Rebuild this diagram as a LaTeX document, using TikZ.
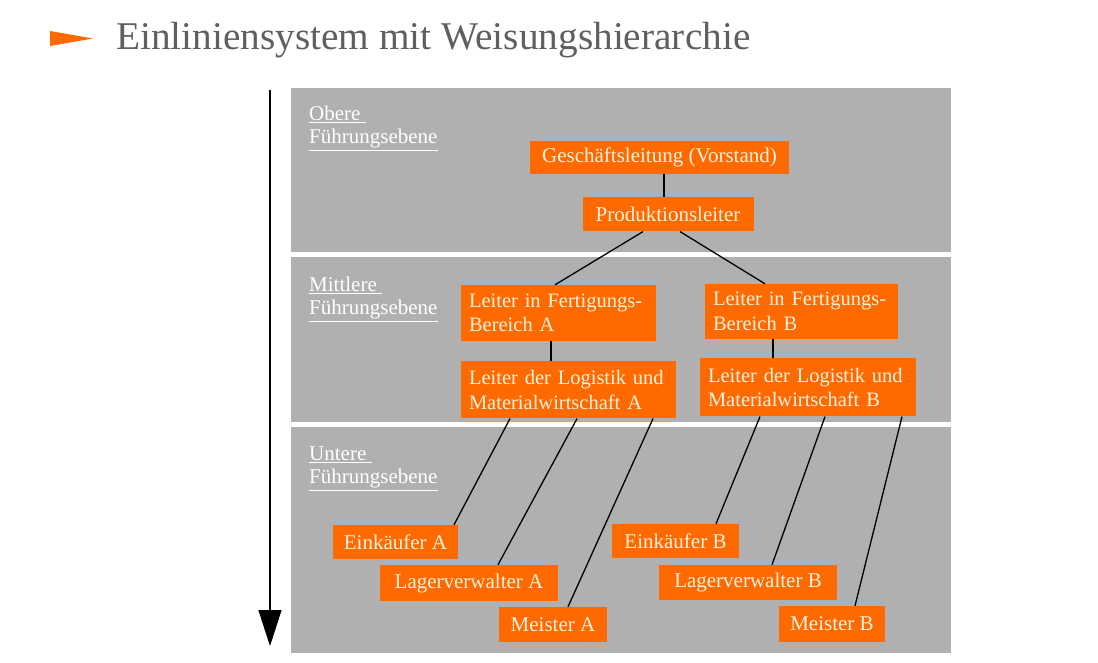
\documentclass[tikz,border=0pt]{standalone}
\usepackage{fontspec}
\setmainfont{Liberation Serif}
\usetikzlibrary{arrows.meta,positioning}

\definecolor{orgbox}{HTML}{FF6A00}
\definecolor{bandgray}{HTML}{B0B0B0}
\definecolor{headgray}{HTML}{5F5F5F}
\definecolor{boxtext}{HTML}{FFF1DE}

\begin{document}
\begin{tikzpicture}[x=1pt, y=-1pt,
    node distance=20pt and 20pt,
    link/.style={draw=black, line width=1.3pt},
    band/.style={fill=bandgray, draw=none},
    unit/.style={fill=orgbox, text=boxtext, inner sep=0pt, align=center,
        minimum height=34pt, font=\fontsize{21}{24.5}\selectfont},
    unitwide/.style={unit, align=left, minimum height=56pt,
        font=\fontsize{20.5}{24.5}\selectfont},
    level/.style={text=white, inner sep=0pt, anchor=north west, align=left,
        font=\fontsize{21}{23.5}\selectfont}
]
\useasboundingbox[fill=white] (0,0) rectangle (1098,663);

% title
\fill[orgbox] (50,31) -- (93,38.5) -- (50,46) -- cycle;
\node[anchor=base west, inner sep=0pt, text=headgray,
    font=\fontsize{39.3}{44}\selectfont] (title) at (116,49.5) {Einliniensystem mit Weisungshierarchie};

% bands
\fill[band] (291,88) rectangle (951,252);
\fill[band] (291,257) rectangle (951,422);
\fill[band] (291,427) rectangle (951,653);
\node[level] (obere) at (309,105.5) {\underline{Obere\ }\\\underline{Führungsebene}};
\node[level] (mittlere) at (309,276.5) {\underline{Mittlere\ }\\\underline{Führungsebene}};
\node[level] (untere) at (309,446.5) {\underline{Untere\ }\\\underline{Führungsebene}};

% hierarchy arrow
\coordinate (top) at (270,90);
\coordinate (bottom) at (270,646);
\draw[line width=1.3pt, -{Triangle[length=36pt, width=23pt]}] (top) -- (bottom);

% nodes
\node[unit, minimum width=259pt, minimum height=33pt] (gl) at (659.5,157.5) {Geschäftsleitung (Vorstand)};
\node[unit, minimum width=171pt, below=23pt of gl, xshift=8.5pt] (prod) {Produktionsleiter};
\node[unitwide, minimum width=195pt, text width=179pt] (lfa) at (558.5,313) {Leiter in Fertigungs-\\Bereich A};
\node[unitwide, minimum width=193pt, text width=177pt, minimum height=55pt] (lfb) at (801.5,311.5) {Leiter in Fertigungs-\\Bereich B};
\node[unitwide, minimum width=215pt, text width=199pt, minimum height=57pt, below=20pt of lfa, xshift=10pt] (lla) {Leiter der Logistik und\\Materialwirtschaft A};
\node[unitwide, minimum width=216pt, text width=200pt, minimum height=58pt, below=19pt of lfb, xshift=6.5pt] (llb) {Leiter der Logistik und\\Materialwirtschaft B};
\node[unit, minimum width=125pt] (eka) at (395.5,542) {Einkäufer A};
\node[unit, minimum width=178pt, minimum height=36pt] (lva) at (469,583) {Lagerverwalter A};
\node[unit, minimum width=108pt, minimum height=35pt] (ma) at (553,624.5) {Meister A};
\node[unit, minimum width=127pt] (ekb) at (675.5,541) {Einkäufer B};
\node[unit, minimum width=178pt, minimum height=35pt] (lvb) at (748,582.5) {Lagerverwalter B};
\node[unit, minimum width=106pt, minimum height=36pt] (mb) at (832,624) {Meister B};

% connectors
\draw[link] ([xshift=4.5pt]gl.south) -- ([xshift=4.5pt]gl.south |- prod.north);
\draw[link] ([xshift=-25pt]prod.south) -- ([xshift=-3.5pt]lfa.north);
\draw[link] ([xshift=12pt]prod.south) -- ([xshift=-36.5pt]lfb.north);
\draw[link] ([xshift=-7.5pt]lfa.south) -- ([xshift=-7.5pt]lfa.south |- lla.north);
\draw[link] ([xshift=-28.5pt]lfb.south) -- ([xshift=-28.5pt]lfb.south |- llb.north);
\draw[link] ([xshift=-58.5pt]lla.south) -- ([xshift=58.5pt]eka.north);
\draw[link] ([xshift=8.5pt]lla.south) -- ([xshift=29pt]lva.north);
\draw[link] ([xshift=84.5pt]lla.south) -- ([xshift=15pt]ma.north);
\draw[link] ([xshift=-48pt]llb.south) -- ([xshift=40.5pt]ekb.north);
\draw[link] ([xshift=17pt]llb.south) -- ([xshift=24pt]lvb.north);
\draw[link] ([xshift=94pt]llb.south) -- ([xshift=23pt]mb.north);
\end{tikzpicture}
\end{document}
